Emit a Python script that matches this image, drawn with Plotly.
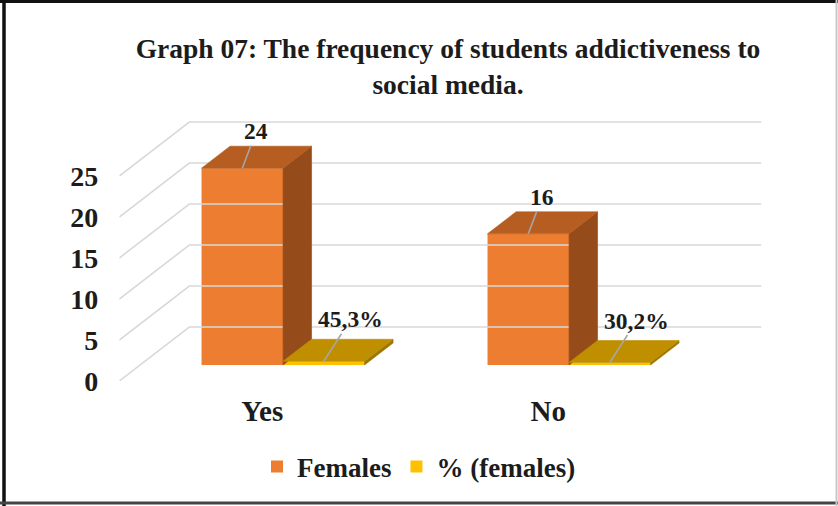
import plotly.graph_objects as go

# ---- data -------------------------------------------------------------
categories = ["Yes", "No"]
females = [24, 16]
females_pct = [0.453, 0.302]
y_ticks = [0, 5, 10, 15, 20, 25]
series_names = ["Females", "% (females)"]
title_text = "Graph 07: The frequency of students addictiveness to<br>social media."

# ---- styling ----------------------------------------------------------
SERIF = "Liberation Serif"
TEXT = "#1c1c1c"
GRID = "#D9D9D9"
LEADER = "#A6A6A6"
FRONT = ["#ED7D31", "#FFC000"]
TOP = ["#B65D21", "#BF8F00"]
SIDE = ["#964B1A", "#9C7500"]

# ---- oblique 3-D projection onto the front plane ----------------------
W, H = 838, 506
PX_PER_CAT = 286.0        # pixels per category step
PX_PER_VAL = 8.2          # pixels per value unit
PLOT_LEFT_PX = 119.3      # left edge of the floor (front)
PLOT_BOTTOM_PX = 381.0    # value 0 on the front plane
DEPTH_PX = (70.0, 54.0)   # full floor depth: right / up
DX = DEPTH_PX[0] / PX_PER_CAT
DY = DEPTH_PX[1] / PX_PER_VAL
Z_FRONT, Z_BACK = 16 / 54, 38 / 54   # depth slice occupied by the bars
BAR_W = 0.285
WALL_L, WALL_R = -0.5, len(categories) - 0.5

x_range = [WALL_L, WALL_L + (W - PLOT_LEFT_PX) / PX_PER_CAT]
y_range = [0, PLOT_BOTTOM_PX / PX_PER_VAL]


def proj(c, v, z):
    return c + z * DX, v + z * DY


fig = go.Figure()

# back wall and side wall gridlines
gx, gy = [], []
for v in y_ticks:
    for c, z in [(WALL_L, 0), (WALL_L, 1), (WALL_R, 1)]:
        px_, py_ = proj(c, v, z)
        gx.append(px_)
        gy.append(py_)
    gx.append(None)
    gy.append(None)
fig.add_trace(go.Scatter(x=gx, y=gy, mode="lines", line=dict(color=GRID, width=1.6),
                         hoverinfo="skip", showlegend=False))


def face(pts, color):
    xs, ys = zip(*[proj(*p) for p in pts])
    fig.add_trace(go.Scatter(x=list(xs) + [xs[0]], y=list(ys) + [ys[0]], mode="lines",
                             fill="toself", fillcolor=color,
                             line=dict(color=color, width=0.6),
                             hoverinfo="skip", showlegend=False))


series = [females, females_pct]
for k in range(len(categories)):
    for s, vals in enumerate(series):
        v = vals[k]
        c0 = k - BAR_W + s * BAR_W
        c1 = c0 + BAR_W
        face([(c1, 0, Z_FRONT), (c1, v, Z_FRONT), (c1, v, Z_BACK), (c1, 0, Z_BACK)], SIDE[s])
        face([(c0, v, Z_FRONT), (c1, v, Z_FRONT), (c1, v, Z_BACK), (c0, v, Z_BACK)], TOP[s])

# front faces of the bars
for s, vals in enumerate(series):
    fig.add_trace(go.Bar(
        x=list(range(len(categories))), y=vals, name=series_names[s],
        base=Z_FRONT * DY, offset=-BAR_W + s * BAR_W + Z_FRONT * DX, width=BAR_W,
        marker=dict(color=FRONT[s], line=dict(width=0)),
    ))

# value labels with leader lines
label_font = dict(family=SERIF, size=23.5, color=TEXT, weight="bold")
offsets = [(14, -37), (27, -42)]
for k in range(len(categories)):
    for s, vals in enumerate(series):
        v = vals[k]
        cx = k - BAR_W / 2 + s * BAR_W
        ax, ay = proj(cx, v, Z_FRONT)
        txt = str(v) if s == 0 else f"{v * 100:.1f}%".replace(".", ",")
        fig.add_annotation(x=ax, y=ay, xref="x", yref="y", text=txt, font=label_font,
                           showarrow=True, arrowhead=0, arrowwidth=1.6, arrowcolor=LEADER,
                           ax=offsets[s][0], ay=offsets[s][1], standoff=0)

# chart border
border = [
    dict(x0=0, x1=0, y0=0, y1=1, dx=4 / W, color="#111111", w=3.5),
    dict(x0=0, x1=1, y0=1, y1=1, dy=-1.5 / H, color="#111111", w=3),
    dict(x0=0, x1=1, y0=0, y1=0, dy=3 / H, color="#444444", w=3),
    dict(x0=1, x1=1, y0=0, y1=1, dx=-1.5 / W, color="#C8C8C8", w=2),
]
for b in border:
    ddx, ddy = b.get("dx", 0), b.get("dy", 0)
    fig.add_shape(type="line", xref="paper", yref="paper",
                  x0=b["x0"] + ddx, x1=b["x1"] + ddx, y0=b["y0"] + ddy, y1=b["y1"] + ddy,
                  line=dict(color=b["color"], width=b["w"]))

fig.update_layout(
    template="none",
    width=W, height=H, margin=dict(l=0, r=0, t=0, b=0, autoexpand=False),
    paper_bgcolor="white", plot_bgcolor="rgba(0,0,0,0)",
    barmode="overlay",
    title=dict(text=title_text, x=448 / W, xanchor="center", y=1 - 58 / H, yanchor="middle",
               yref="container", font=dict(family=SERIF, size=27.5, color=TEXT, weight="bold")),
    xaxis=dict(domain=[PLOT_LEFT_PX / W, 1], range=x_range, tickvals=list(range(len(categories))),
               ticktext=categories, showgrid=False, zeroline=False, showline=False, ticks="",
               tickfont=dict(family=SERIF, size=29, color=TEXT, weight="bold"),
               ticklabelstandoff=10, automargin=False, fixedrange=True),
    yaxis=dict(domain=[1 - PLOT_BOTTOM_PX / H, 1], range=y_range, tickvals=y_ticks,
               showgrid=False, zeroline=False, showline=False, ticks="",
               tickfont=dict(family=SERIF, size=28, color=TEXT, weight="bold"),
               ticklabelstandoff=20, automargin=False, fixedrange=True),
    legend=dict(orientation="h", x=419 / W, xanchor="center", y=1 - 467 / H, yanchor="middle",
                font=dict(family=SERIF, size=27, color=TEXT, weight="bold"),
                itemwidth=30, bgcolor="rgba(0,0,0,0)"),
    showlegend=True,
)

fig.write_html("out.html")
